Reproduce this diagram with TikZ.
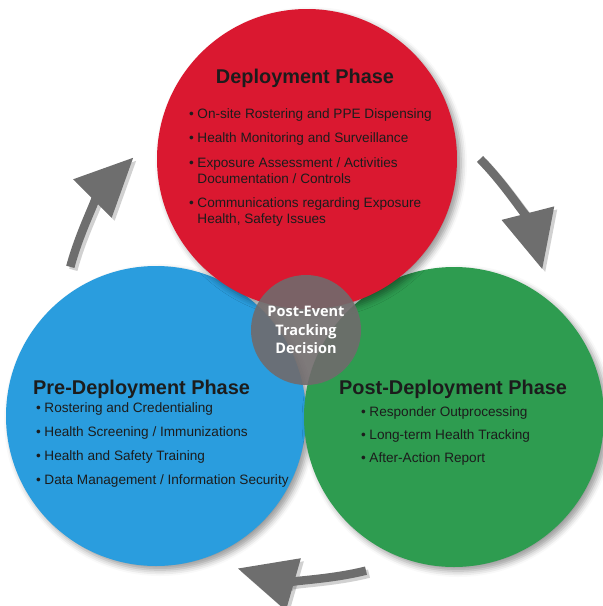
\documentclass[tikz,border=0pt]{standalone}
\usepackage{fontspec}
\setmainfont{Liberation Sans}
\newfontfamily\hubfont{Open Sans}
\usepackage{tikz}
\usetikzlibrary{arrows.meta,shadows.blur}

\definecolor{deployred}{RGB}{218,24,48}
\definecolor{preblue}{RGB}{42,157,222}
\definecolor{postgreen}{RGB}{46,156,80}
\definecolor{hubgray}{RGB}{112,107,108}
\definecolor{arrowgray}{RGB}{110,110,110}
\definecolor{inkdark}{RGB}{28,28,28}

\tikzset{
  phase/.style={circle,minimum size=300pt,inner sep=0pt,
    blur shadow={shadow xshift=4pt,shadow yshift=-4pt,shadow blur radius=6pt,shadow opacity=40}},
  hub/.style={circle,minimum size=110pt,inner sep=0pt,fill=hubgray,fill opacity=.9,text opacity=1,
    text=white,align=center,font=\hubfont\bfseries\fontsize{14.5}{18.5}\selectfont},
  phasetitle/.style={inner sep=0pt,text=inkdark,font=\bfseries\fontsize{19.9}{24}\selectfont},
  items/.style={inner sep=0pt,text=inkdark,font=\fontsize{13.6}{16}\selectfont},
  cyclearrow/.style={draw=arrowgray,line width=8.5pt,-{Triangle[length=58pt,width=52pt]}},
  cycleshadow/.style={draw=black,opacity=.18,line width=8.5pt,-{Triangle[length=58pt,width=52pt]}}
}

\begin{document}
\begin{tikzpicture}[x=1pt,y=-1pt]
  \useasboundingbox (0,0) rectangle (603,606);

  % phases
  \node[phase,fill=preblue] (predeploy) at (156,416) {};
  \node[phase,fill=postgreen] (postdeploy) at (454,417) {};
  \node[phase,fill=deployred] (deploy) at (307,159) {};
  \node[hub] (decision) at (306,330) {Post-Event\\Tracking\\Decision};
  \coordinate (shadowhub) at ([shift={(3,3)}]decision.center);

  % cycle arrows
  \foreach \from/\to/\rad in {-165/-135/244, -44.5/-14.4/244, 76/106/248} {
    \draw[cycleshadow] ([shift={(\from:\rad)}]shadowhub)
      arc[start angle=\from,end angle=\to,radius=\rad];
    \draw[cyclearrow] ([shift={(\from:\rad)}]decision.center)
      arc[start angle=\from,end angle=\to,radius=\rad];
  }

  % texts
  \node[phasetitle,anchor=base] (deploytitle) at (305,83) {Deployment Phase};
  \node[items,anchor=base west] (deployitems) at (189,118) {%
    \begin{tabular}[t]{@{}l@{\hspace{3.5pt}}l@{}}
      \textbullet & On-site Rostering and PPE Dispensing\\[8pt]
      \textbullet & Health Monitoring and Surveillance\\[9pt]
      \textbullet & Exposure Assessment / Activities\\
                  & Documentation / Controls\\[8pt]
      \textbullet & Communications regarding Exposure\\
                  & Health, Safety Issues
    \end{tabular}};

  \node[phasetitle,anchor=base west] (pretitle) at (33,394) {Pre-Deployment Phase};
  \node[items,anchor=base west] (preitems) at (36,412) {%
    \begin{tabular}[t]{@{}l@{\hspace{3.5pt}}l@{}}
      \textbullet & Rostering and Credentialing\\[8pt]
      \textbullet & Health Screening / Immunizations\\[8pt]
      \textbullet & Health and Safety Training\\[8pt]
      \textbullet & Data Management / Information Security
    \end{tabular}};

  \node[phasetitle,anchor=base west] (posttitle) at (339,394) {Post-Deployment Phase};
  \node[items,anchor=base west] (postitems) at (361,416) {%
    \begin{tabular}[t]{@{}l@{\hspace{3.5pt}}l@{}}
      \textbullet & Responder Outprocessing\\[7pt]
      \textbullet & Long-term Health Tracking\\[7pt]
      \textbullet & After-Action Report
    \end{tabular}};
\end{tikzpicture}
\end{document}
